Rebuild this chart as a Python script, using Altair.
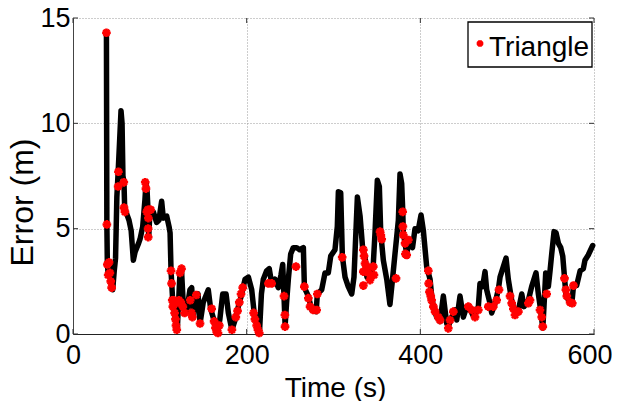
import altair as alt
import pandas as pd

# ---- data ----
line_t = [38.5, 39, 39.5, 40.5, 42, 43.5, 45.7, 47.5, 49, 50.5, 52, 53.5, 55.3, 56.5, 57.5, 58.7, 59.5, 61,
          64.5, 67, 69.5, 71.5, 73.5, 75.5, 77.2, 80.3, 82.9, 84.1, 85.3, 86.5, 87.2, 88.7, 92.5, 96.3, 99,
          101, 102.1, 104, 107.9, 110.6, 111.8, 112.9, 114.8, 117.5, 120.1, 123.2, 125, 127, 129, 131,
          134.7, 136.7, 138.6, 140.5, 144, 146.3, 150, 155.8, 158.5, 163.5, 166.3, 169, 172.4, 176.3,
          178.9, 183, 186.6, 190.4, 194.3, 198.1, 202, 205.8, 208.4, 213.4, 214.8, 217, 219.2, 223, 226,
          228.8, 232.6, 236.5, 239.5, 241.5, 243, 244.3, 246, 248, 250.7, 253.7, 257.6, 261, 265.3, 266.5,
          271, 275, 280, 281.4, 286.4, 290.2, 294, 296.8, 301.7, 304.4, 305.6, 308.3, 310.2, 313.3, 317,
          321, 323.6, 327.5, 330.6, 333.7, 336.3, 338.5, 341.3, 344, 345.8, 347.8, 350.5, 352.8, 354.4,
          357.4, 361.3, 365, 368.2, 370.8, 374.7, 376.6, 378.5, 379.7, 380.4, 382.4, 384.3, 387.3, 391,
          393.9, 397.5, 400.8, 403.5, 407.3, 411.2, 413.1, 415, 418.8, 422.7, 426.5, 430.4, 432.2, 436.1,
          440, 441.9, 445.7, 449.5, 453.4, 457.5, 461.8, 466.8, 468.7, 471.8, 474.5, 476.4, 479.4, 482.2,
          486, 489.8, 491.8, 495.6, 498.7, 501.3, 505.2, 509, 513, 516.8, 519.4, 524.4, 528.2, 533.2,
          535.9, 538.6, 541, 542.4, 544.4, 547.4, 549.4, 551.3, 554, 556.3, 559, 561.7, 564, 566, 567.6,
          570.6, 574.5, 576.4, 580, 584, 587.7, 589.6, 593.4, 598.5]
line_v = [14.3, 5.2, 3.5, 2.8, 3.4, 2.6, 2.1, 3.0, 3.6, 6.5, 7.7, 9.0, 10.6, 10.0, 7.5, 7.2, 6.0, 5.8,
          5.4, 4.9, 3.5, 3.9, 4.1, 4.3, 4.5, 5.1, 6.4, 7.2, 6.8, 5.8, 4.6, 5.9, 5.8, 5.3, 5.4,
          6.0, 6.3, 5.5, 5.6, 5.1, 4.8, 3.0, 1.6, 0.8, 0.2, 2.9, 3.0, 1.4, 1.0, 1.1,
          2.1, 2.2, 0.8, 1.8, 1.9, 0.5, 1.5, 2.1, 1.2, 0.5, 0.05, 0.66, 1.9, 1.9,
          1.0, 0.2, 0.66, 1.3, 1.9, 2.6, 2.7, 2.1, 1.1, 0.1, 0.1, 1.9, 2.6, 3.0, 3.1,
          2.4, 2.6, 2.2, 2.8, 3.3, 1.8, 0.4, 1.5, 2.6, 3.8, 4.1, 4.1, 4.0, 4.1, 2.2,
          1.8, 1.14, 1.06, 1.9, 2.1, 2.9, 2.9, 3.7, 4.0, 5.1, 6.75, 6.7, 3.7, 2.7, 2.25,
          1.9, 2.7, 6.5, 5.6, 4.0, 3.7, 2.7, 2.6, 3.0, 3.3, 4.8, 7.3, 7.0, 4.8,
          3.5, 2.6, 1.4, 2.7, 3.8, 5.4, 7.6, 7.15, 5.9, 4.8, 4.3, 3.8, 4.5, 4.1,
          5.0, 4.9, 5.65, 4.9, 3.2, 2.6, 1.8, 1.3, 0.8, 0.6, 1.8, 0.5, 0.35, 0.8,
          1.14, 0.66, 1.8, 0.8, 1.3, 1.14, 0.8, 1.3, 2.4, 2.25, 2.96, 2.1, 1.6, 1.0,
          1.46, 2.1, 2.7, 3.2, 3.6, 2.6, 1.6, 1.0, 1.14, 1.9, 1.3, 1.6, 2.25, 2.9,
          1.9, 1.14, 0.27, 1.3, 2.9, 2.25, 3.0, 3.8, 4.86, 4.8, 4.3, 4.1, 3.7, 2.7, 1.9,
          1.6, 1.46, 2.3, 2.3, 3.0, 3.1, 3.5, 3.75, 4.2]

marker_t = [38.5, 39, 39.5, 40.5, 41.5, 42.5, 43.5, 44.5, 52, 52.3, 58.5, 58.7, 59.8, 83.2, 84, 85, 86.3,
            86.8, 86.5, 86.6, 88.2, 89.5, 112.9, 113.5, 114.3, 115, 116, 117, 118, 118.6, 119.5, 120.5,
            122, 123.2, 124.2, 125, 126.5, 128.5, 135, 136.5, 137.5, 142, 146.3, 159.7, 162.5, 164,
            165.5, 167, 168.5, 183, 187.5, 189.5, 191.5, 193.5, 195.5, 208, 209.5, 211.5, 213, 214.5,
            225, 228.8, 243, 244, 244.2, 256.8, 266.4, 271, 273, 276.8, 280.6, 281.4, 310, 334.4, 335.2,
            336.3, 334.4, 334.4, 338.3, 340, 342, 345.8, 346.6, 353.6, 355.5, 354.5, 372, 379.7, 379.9,
            380.4, 382.4, 382.8, 384.3, 386.2, 409.2, 409.6, 410.5, 412, 413, 415, 417, 420.7, 422.7,
            432.2, 434.2, 438, 455.3, 459.2, 463, 466.8, 478.3, 484, 487.9, 490.6, 503.3, 505.2, 507.1,
            509, 512.9, 524.4, 526.3, 537.8, 539.8, 541, 545.5, 566, 567.6, 568.7, 572.5, 575, 576.4]
marker_v = [14.3, 5.2, 3.3, 2.8, 3.4, 2.9, 2.5, 2.2, 7.0, 7.7, 7.2, 6.0, 5.8, 7.2, 6.9, 5.8, 5.9,
            5.5, 5.0, 4.6, 5.9, 5.9, 3.0, 2.4, 1.6, 1.3, 1.6, 1.0, 0.7, 0.4, 0.2, 1.5,
            1.6, 2.9, 1.5, 3.1, 1.3, 1.0, 1.6, 1.0, 0.8, 1.85, 0.5, 1.2, 0.6, 0.3,
            0.1, 0.05, 0.4, 0.2, 0.8, 1.1, 1.5, 1.9, 2.2, 1.0, 0.7, 0.4, 0.2, 0.05,
            2.4, 2.4, 1.8, 0.9, 0.35, 3.2, 2.25, 1.7, 1.3, 1.14, 1.14, 1.9, 3.64, 4.0, 3.7,
            3.35, 2.96, 2.3, 3.2, 2.9, 2.56, 3.2, 2.8, 4.86, 4.5, 4.7, 2.64, 5.8, 5.1,
            4.7, 4.3, 3.8, 3.75, 4.46, 3.0, 2.4, 2.0, 1.8, 1.6, 1.3, 1.06, 0.8, 0.66,
            0.27, 0.66, 1.06, 1.3, 1.14, 0.8, 1.14, 1.3, 1.3, 1.6, 2.1, 1.8, 1.46, 1.2,
            0.9, 1.06, 1.46, 1.6, 1.14, 0.8, 0.35, 1.9, 2.64, 2.1, 1.8, 1.5, 1.46, 2.3]

series_name = "Triangle"
x_ticks = [0, 200, 400, 600]
y_ticks = [0, 5, 10, 15]

line_df = pd.DataFrame({"t": line_t, "v": line_v})
mark_df = pd.DataFrame({"t": marker_t, "v": marker_v})
legend_df = pd.DataFrame({"label": [series_name]})
xt_df = pd.DataFrame({"t": x_ticks})
yt_df = pd.DataFrame({"v": y_ticks})

W, H = 521, 316
FONT = "Liberation Sans, Arial, sans-serif"
STAR = "M-1,0L1,0M0,-1L0,1M-0.7,-0.7L0.7,0.7M-0.7,0.7L0.7,-0.7"
RED = "#ff0000"

x_scale = alt.Scale(domain=[0, 600], nice=False)
y_scale = alt.Scale(domain=[0, 15], nice=False)

x_axis = alt.Axis(values=x_ticks, title="Time (s)", labelFontSize=27, titleFontSize=28,
                  labelFont=FONT, titleFont=FONT, labelColor="black", titleColor="black",
                  titleFontWeight="normal", tickSize=0, labelPadding=8,
                  labelAlign={"expr": "datum.value == 600 ? 'right' : 'center'"},
                  labelOffset={"expr": "datum.value == 600 ? 18 : 0"},
                  titleX=262, titleY=62, titleBaseline="alphabetic",
                  grid=True, gridDash=[1, 2], gridColor="#9a9a9a", gridWidth=1,
                  domainColor="#222", domainWidth=1, labelFlush=False)
y_axis = alt.Axis(values=y_ticks, title="Error (m)", labelFontSize=27, titleFontSize=32,
                  labelFont=FONT, titleFont=FONT, labelColor="black", titleColor="black",
                  titleFontWeight="normal", tickSize=0, labelPadding=3,
                  titleX=-41, titleY=184, titleBaseline="alphabetic",
                  grid=True, gridDash=[1, 2], gridColor="#9a9a9a", gridWidth=1,
                  domainColor="#444", domainWidth=1, labelFlush=False)

line = alt.Chart(line_df).mark_line(color="black", strokeWidth=5.5, strokeJoin="round",
                                    strokeCap="round").encode(
    x=alt.X("t:Q", scale=x_scale, axis=x_axis),
    y=alt.Y("v:Q", scale=y_scale, axis=y_axis),
    order=alt.Order("t:Q"),
)

points = alt.Chart(mark_df).mark_point(shape=STAR, filled=False, strokeWidth=2.6, size=75,
                                       opacity=1, color=RED).encode(
    x=alt.X("t:Q", scale=x_scale),
    y=alt.Y("v:Q", scale=y_scale),
)

# small inward ticks (MATLAB style)
tick_color = "#333"
xt_bottom = alt.Chart(xt_df).mark_rule(color=tick_color, strokeWidth=1).encode(
    x=alt.X("t:Q", scale=x_scale), y=alt.value(H), y2=alt.value(H - 5))
xt_top = alt.Chart(xt_df).mark_rule(color=tick_color, strokeWidth=1).encode(
    x=alt.X("t:Q", scale=x_scale), y=alt.value(0), y2=alt.value(5))
yt_left = alt.Chart(yt_df).mark_rule(color=tick_color, strokeWidth=1).encode(
    y=alt.Y("v:Q", scale=y_scale), x=alt.value(0), x2=alt.value(5))
yt_right = alt.Chart(yt_df).mark_rule(color=tick_color, strokeWidth=1).encode(
    y=alt.Y("v:Q", scale=y_scale), x=alt.value(W), x2=alt.value(W - 5))

# legend box
leg_box = alt.Chart(legend_df).mark_rect(fill="white", stroke="black", strokeWidth=1.3).encode(
    x=alt.value(395), x2=alt.value(519), y=alt.value(4), y2=alt.value(49))
leg_sym = alt.Chart(legend_df).mark_point(shape=STAR, filled=False, strokeWidth=2.4, size=45,
                                          opacity=1, color=RED).encode(
    x=alt.value(407), y=alt.value(25.5))
leg_txt = alt.Chart(legend_df).mark_text(align="left", baseline="alphabetic", fontSize=28,
                                         font=FONT, color="black").encode(
    x=alt.value(416), y=alt.value(38), text="label:N")

chart = alt.layer(line, points, xt_bottom, xt_top, yt_left, yt_right,
                  leg_box, leg_sym, leg_txt).properties(
    width=W, height=H,
    autosize=alt.AutoSizeParams(type="none"),
    padding={"left": 65, "top": 10, "right": 18, "bottom": 67},
    background="white",
).configure_view(stroke=None)

chart.save("out.html", embed_options={"renderer": "svg", "actions": False})
